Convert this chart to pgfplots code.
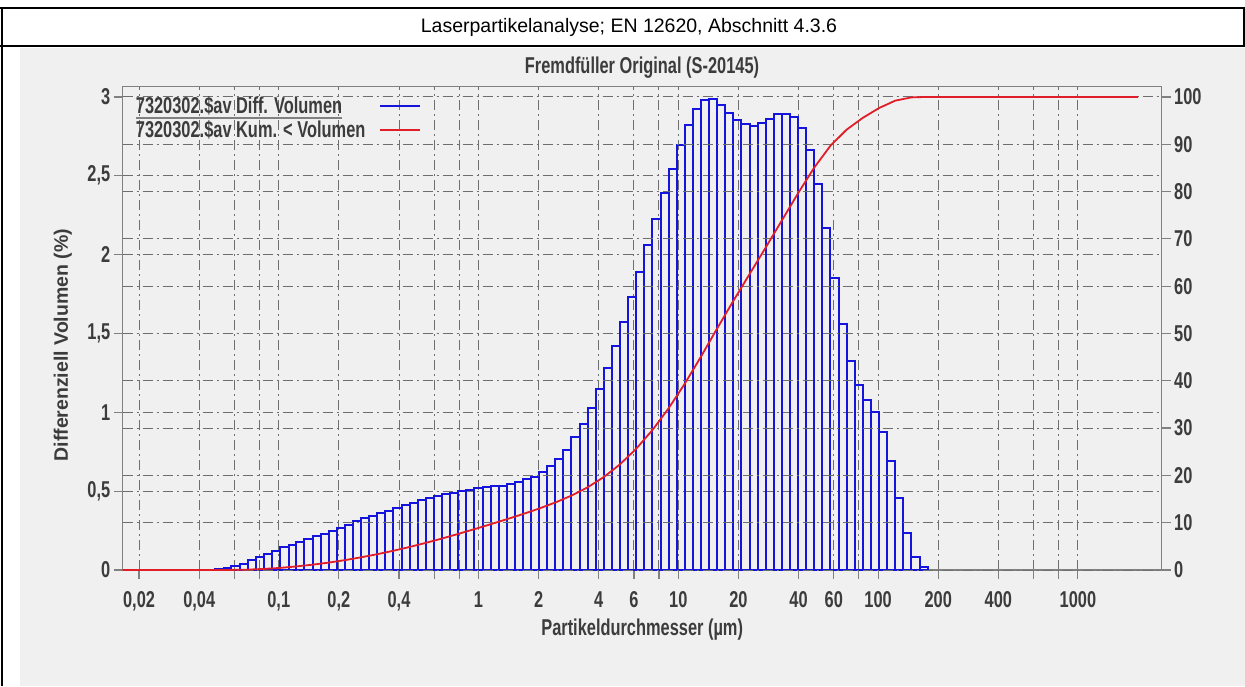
\documentclass[border=0pt]{standalone}
\usepackage{fontspec}
\setmainfont{Liberation Sans}
\newfontfamily\chartfont{Liberation Sans}[FakeStretch=0.716]
\usepackage{graphicx}
\usepackage{pgfplots}
\pgfplotsset{compat=1.18}
\definecolor{bg}{RGB}{240,240,240}
\definecolor{txt}{RGB}{60,60,60}
\definecolor{axgray}{RGB}{128,128,128}
\definecolor{gridgray}{RGB}{110,110,110}
\definecolor{barblue}{RGB}{20,20,220}
\definecolor{curvered}{RGB}{225,30,40}
\newcommand\cf{\chartfont\bfseries\fontsize{22.9}{25}\selectfont}
\newcommand\cfv{\bfseries\fontsize{19.5}{22}\selectfont}
\newcommand\ulgray[1]{\setbox0\hbox{#1}\rlap{\color{axgray}\rule[-5pt]{\wd0}{1.3pt}}\box0}
\begin{document}
\begin{tikzpicture}
\useasboundingbox (0,0) rectangle (1245pt,-686pt);
\fill[white] (0,0) rectangle (1245pt,-686pt);
\fill[bg] (20pt,-48pt) rectangle (1245pt,-686pt);
\draw[black, line width=2pt] (0,-8pt) -- (1245pt,-8pt);
\draw[black, line width=2pt] (0,-46pt) -- (1245pt,-46pt);
\draw[black, line width=2.5pt] (2pt,-8pt) -- (2pt,-686pt);
\draw[black, line width=2pt] (1244pt,-8pt) -- (1244pt,-46pt);
\node[font=\fontsize{19.5}{22}\selectfont] at (629pt,-27pt) {Laserpartikelanalyse; EN 12620, Abschnitt 4.3.6};

\begin{axis}[
  at={(122.7pt,-570pt)}, anchor=south west,
  scale only axis, width=1039pt, height=483.5pt,
  xmode=log, xmin=0.01656, xmax=2627,
  ymin=0, ymax=3.066,
  axis line style={axgray, line width=1.2pt},
  xtick={0.02,0.04,0.06,0.08,0.1,0.2,0.4,0.6,0.8,1,2,4,6,8,10,20,40,60,80,100,200,400,600,800,1000},
  xticklabels={{0,02},{0,04},{},{},{0,1},{0,2},{0,4},{},{},1,2,4,6,{},10,20,40,60,{},100,200,400,{},{},1000},
  minor xtick={},
  ytick={0,0.5,1,1.5,2,2.5,3},
  yticklabels={0,{0,5},1,{1,5},2,{2,5},3},
  xtick pos=bottom, ytick pos=left,
  tick align=outside, major tick length=9pt,
  tick style={axgray, line width=1.2pt},
  grid=major,
  major grid style={gridgray, line width=1pt, dash pattern=on 10pt off 4pt on 2pt off 4pt},
  ticklabel style={font=\cf, text=txt},
  xticklabel style={yshift=-9pt},
  xlabel={Partikeldurchmesser (µm)},
  ylabel={Differenziell Volumen (\%)},
  xlabel style={font=\cf, text=txt, at={(axis description cs:0.5,-0.124)}, anchor=center},
  ylabel style={font=\cfv, text=txt, at={(axis description cs:-0.0575,0.465)}, anchor=center},
]
\addplot[ybar interval, draw=barblue, line width=2pt, fill=none] coordinates {
(0.044,0.003) (0.048,0.006) (0.053,0.012) (0.058,0.025) (0.064,0.038)
(0.070,0.063) (0.077,0.082) (0.084,0.100) (0.093,0.122) (0.102,0.144)
(0.112,0.160) (0.122,0.180) (0.134,0.195) (0.148,0.214) (0.162,0.230)
(0.178,0.249) (0.195,0.266) (0.214,0.283) (0.235,0.313) (0.258,0.328)
(0.284,0.342) (0.311,0.359) (0.342,0.374) (0.375,0.391) (0.412,0.412)
(0.452,0.427) (0.496,0.444) (0.545,0.455) (0.598,0.469) (0.657,0.480)
(0.721,0.490) (0.791,0.500) (0.869,0.507) (0.953,0.518) (1.047,0.524)
(1.149,0.530) (1.261,0.535) (1.385,0.545) (1.520,0.556) (1.669,0.575)
(1.832,0.592) (2.011,0.619) (2.208,0.659) (2.423,0.706) (2.660,0.761)
(2.920,0.841) (3.206,0.926) (3.519,1.029) (3.863,1.148) (4.241,1.283)
(4.656,1.420) (5.111,1.573) (5.611,1.731) (6.159,1.892) (6.761,2.061)
(7.422,2.226) (8.148,2.389) (8.944,2.543) (9.819,2.695) (10.78,2.822)
(11.83,2.921) (12.99,2.980) (14.26,2.987) (15.65,2.949) (17.18,2.896)
(18.86,2.854) (20.71,2.826) (22.73,2.818) (24.95,2.832) (27.39,2.858)
(30.07,2.889) (33.01,2.892) (36.24,2.870) (39.78,2.801) (43.67,2.661)
(47.94,2.446) (52.62,2.167) (57.77,1.854) (63.41,1.558) (69.61,1.325)
(76.42,1.173) (83.89,1.078) (92.09,1.000) (101.1,0.873) (111.0,0.691)
(121.8,0.459) (133.7,0.233) (146.8,0.085) (161.2,0.021) (176.9,0)
};
\end{axis}

\begin{axis}[
  at={(122.7pt,-570pt)}, anchor=south west,
  scale only axis, width=1039pt, height=483.5pt,
  xmode=log, xmin=0.01656, xmax=2627,
  ymin=0, ymax=102.2,
  axis x line=none, axis y line*=right,
  axis line style={axgray, line width=1.2pt},
  ytick={0,10,20,30,40,50,60,70,80,90,100},
  yticklabels={0,10,20,30,40,50,60,70,80,90,100},
  tick align=outside, major tick length=9pt,
  tick style={axgray, line width=1.2pt},
  ymajorgrids,
  major grid style={gridgray, line width=1pt, dash pattern=on 10pt off 4pt on 2pt off 4pt},
  ticklabel style={font=\cf, text=txt},
  legend plot pos=right,
  legend cell align=left,
  legend image code/.code={\path (0pt,0pt); \draw[#1] (12pt,0pt) -- (52pt,0pt);},
  legend style={at={(axis description cs:0,1)}, anchor=north west, xshift=8pt, yshift=-6pt,
    draw=none, fill=none, font=\cf, text=txt, row sep=1.5pt},
]
\addlegendimage{barblue, line width=1.6pt}
\addlegendentry{\ulgray{7320302.\$av Diff. Volumen}}
\addplot[curvered, line width=1.8pt] coordinates {
(0.01656,0) (0.044,0) (0.058,0.02) (0.070,0.08) (0.084,0.23) (0.102,0.45)
(0.122,0.75) (0.148,1.13) (0.178,1.57) (0.214,2.08) (0.258,2.68)
(0.311,3.34) (0.375,4.07) (0.452,4.87) (0.545,5.74) (0.657,6.66)
(0.791,7.63) (0.953,8.63) (1.149,9.67) (1.385,10.73) (1.669,11.83)
(2.011,12.99) (2.423,14.27) (2.920,15.73) (3.519,17.49) (4.241,19.66)
(5.111,22.35) (6.159,25.64) (7.422,29.58) (8.944,34.18) (10.78,39.40)
(12.99,45.12) (15.65,51.07) (18.86,56.89) (22.73,62.55) (27.39,68.18)
(33.01,73.91) (39.78,79.65) (47.94,85.09) (57.77,89.69) (69.61,93.09)
(83.89,95.58) (101.1,97.65) (121.8,99.21) (146.8,99.90) (176.9,100)
(2000,100)
};
\addlegendentry{7320302.\$av Kum. < Volumen}
\end{axis}
\node[font=\cf, text=txt] at (642pt,-68pt) {Fremdfüller Original (S-20145)};
\end{tikzpicture}
\end{document}
